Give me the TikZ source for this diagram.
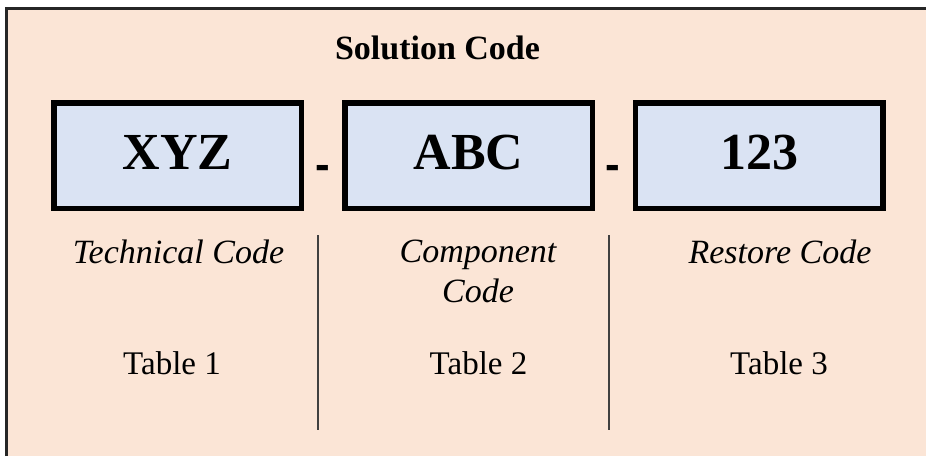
\documentclass[tikz,border=0pt]{standalone}
\usepackage{fontspec}
\setmainfont{Liberation Serif}
\newfontfamily\dashfont{Liberation Sans}
\definecolor{peach}{HTML}{FBE5D6}
\definecolor{boxblue}{HTML}{DAE3F3}
\definecolor{frame}{HTML}{262626}
\definecolor{sepgray}{HTML}{404040}
\begin{document}
\begin{tikzpicture}[x=1pt,y=-1pt,
  codebox/.style={draw=black,line width=5.5pt,fill=boxblue,minimum width=247.5pt,minimum height=105.5pt,inner sep=0pt,
    font=\fontsize{52}{56}\selectfont\bfseries,text height=36pt,text depth=9pt},
  sep/.style={font=\dashfont\fontsize{44}{48}\selectfont\bfseries,anchor=base,inner sep=0pt},
  lbl/.style={font=\fontsize{34}{40}\selectfont\itshape,anchor=base,align=center,inner sep=0pt},
  tbl/.style={font=\fontsize{33}{38}\selectfont,anchor=base,inner sep=0pt},
  rule/.style={draw=sepgray,line width=1.2pt}]
\useasboundingbox (0,0) rectangle (926,456);
\fill[white] (0,0) rectangle (926,456);
\fill[peach] (6,8) rectangle (926,456);
\draw[frame,line width=3pt] (6,456) -- (6,8) -- (926,8);
\node[font=\fontsize{34}{40}\selectfont\bfseries,anchor=base,inner sep=0pt] (title) at (437.5,59) {Solution Code};
\node[codebox] (b1) at (177.5,155.5) {XYZ};
\node[codebox] (b2) at (468.5,155.5) {ABC};
\node[codebox] (b3) at (759,155.5) {123};
\node[sep] (d1) at (323,179) {-};
\node[sep] (d2) at (613,179) {-};
\node[lbl] (l1) at (178.5,263) {Technical Code};
\node[lbl] (l2) at (478,302) {Component\\Code};
\node[lbl] (l3) at (780,263) {Restore Code};
\node[tbl] (t1) at (172,374) {Table 1};
\node[tbl] (t2) at (478.5,374) {Table 2};
\node[tbl] (t3) at (779,374) {Table 3};
\draw[rule] (318,235) -- (318,430);
\draw[rule] (609,235) -- (609,430);
\end{tikzpicture}
\end{document}
